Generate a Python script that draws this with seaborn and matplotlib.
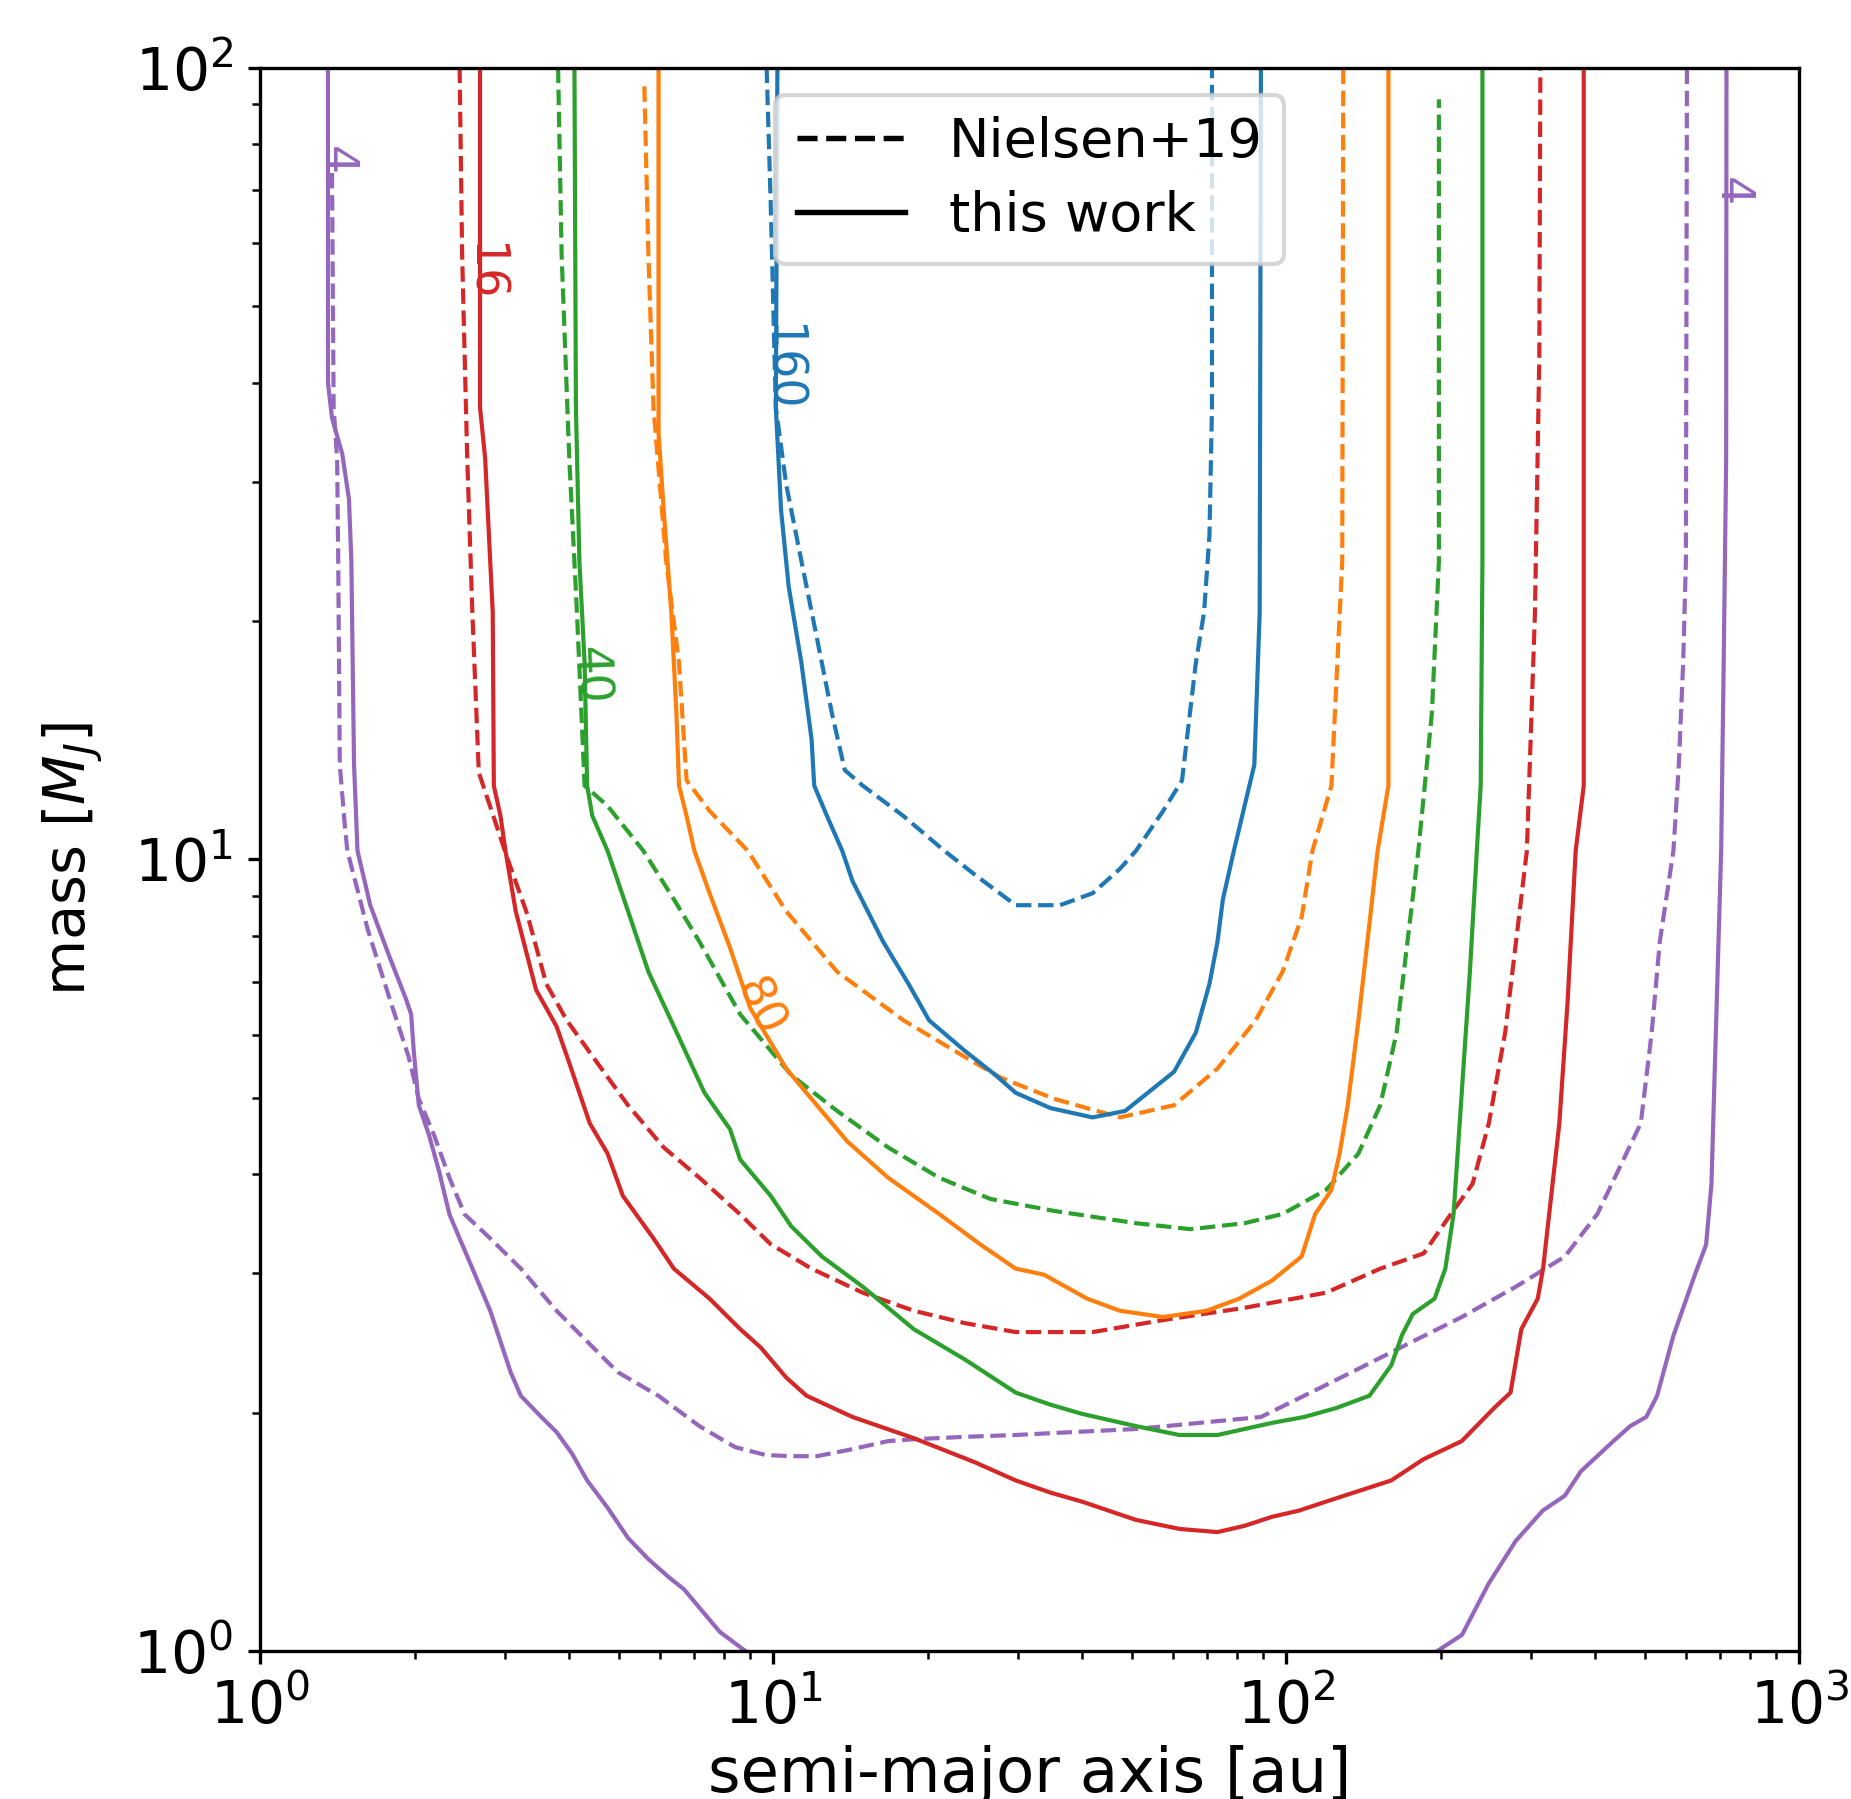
import matplotlib
matplotlib.use("Agg")
import matplotlib.pyplot as plt
from matplotlib.lines import Line2D
import seaborn as sns

# values: semi-major axis [au] (a) and mass [M_J] (m)

# 4 -- this work (two open pieces, both leave through the bottom)
purple_solid_left_a = [1.354, 1.354, 1.379, 1.444, 1.488, 1.504, 1.522, 1.546, 1.637, 1.775,
                       1.922, 1.967, 1.990, 2.036, 2.132, 2.231, 2.336, 2.445, 2.619, 2.805,
                       2.937, 3.074, 3.219, 3.527, 3.778, 4.046, 4.334, 4.750, 5.207, 5.706,
                       6.254, 6.698, 7.175, 7.862, 8.815]
purple_solid_left_m = [100, 40.0, 36.1, 32.5, 28.5, 23.8, 13.2, 10.25, 8.75, 7.60,
                       6.66, 6.37, 5.73, 4.89, 4.48, 4.03, 3.56, 3.32, 2.99, 2.69,
                       2.46, 2.25, 2.10, 1.975, 1.890, 1.777, 1.642, 1.517, 1.389, 1.306,
                       1.239, 1.196, 1.134, 1.057, 1.0]
purple_solid_right_a = [721, 720, 712, 704, 682, 674, 658, 626, 597, 568, 528, 503, 468, 434,
                        375, 349, 316, 280, 248, 220, 197]
purple_solid_right_m = [100, 32.1, 17.7, 10.25, 5.07, 3.89, 3.26, 2.99, 2.74, 2.50, 2.10, 1.975,
                        1.923, 1.841, 1.686, 1.571, 1.504, 1.377, 1.217, 1.048, 1.0]
# 4 -- Nielsen+19
purple_dashed_a = [1.379, 1.389, 1.411, 1.418, 1.428, 1.461, 1.477, 1.619, 1.795, 1.945,
                   2.036, 2.181, 2.336, 2.501, 2.805, 3.219, 3.778, 4.334, 4.972, 5.972,
                   7.175, 8.420, 9.66, 10.83, 12.15, 13.94, 16.74, 18.77, 23.60, 29.67,
                   34.67, 50.9, 89.2, 108.4, 134.9, 172.2, 219.7, 280.3, 349.2, 403.9,
                   490.8, 515.4, 534.5, 568.2, 582.1, 593.6, 600.9, 603.8]
purple_dashed_m = [73.6, 37.2, 32.05, 23.8, 13.15, 11.0, 10.25, 8.15, 6.60, 5.63,
                   4.98, 4.48, 3.96, 3.56, 3.32, 3.04, 2.69, 2.46, 2.25, 2.10,
                   1.923, 1.809, 1.768, 1.762, 1.762, 1.793, 1.841, 1.851, 1.864, 1.874,
                   1.884, 1.907, 1.975, 2.101, 2.254, 2.441, 2.641, 2.885, 3.150, 3.564,
                   4.64, 6.04, 7.87, 10.25, 13.16, 17.7, 23.8, 100]

# 16
red_solid_a = [2.680, 2.680, 2.742, 2.805, 2.837, 2.851, 2.937, 3.004, 3.145, 3.446,
               3.778, 4.000, 4.385, 4.750, 5.087, 5.838, 6.397, 7.509, 8.614, 9.441,
               10.59, 11.60, 14.26, 18.77, 24.71, 29.67, 34.67, 39.93, 50.9, 61.9,
               73.4, 82.9, 93.7, 105.8, 119.5, 160.1, 185.2, 219.7, 254.3, 273.5,
               287.1, 309.0, 316.5, 340.5, 353.3, 366.4, 379.9, 379.9]
red_solid_m = [100, 37.2, 32.1, 23.8, 20.5, 12.38, 11.35, 10.25, 8.60, 6.84,
               6.15, 5.53, 4.64, 4.25, 3.757, 3.32, 3.04, 2.786, 2.550, 2.418,
               2.215, 2.101, 1.975, 1.857, 1.731, 1.642, 1.585, 1.544, 1.464, 1.426,
               1.413, 1.439, 1.477, 1.504, 1.544, 1.642, 1.747, 1.841, 2.028, 2.120,
               2.550, 2.786, 3.04, 4.64, 6.60, 10.25, 12.39, 100]
red_dashed_a = [2.445, 2.473, 2.530, 2.589, 2.665, 2.808, 3.026, 3.311, 3.608, 3.955,
                4.537, 5.207, 6.112, 7.175, 8.614, 9.88, 11.87, 14.93, 18.77, 23.60,
                29.67, 41.9, 57.5, 82.9, 119.5, 152.4, 185.2, 209.3, 230.7, 248.1,
                267.0, 294.3, 305.2, 311.2, 312.7]
red_dashed_m = [100, 58.0, 32.1, 20.5, 12.87, 11.63, 10.05, 8.53, 6.96, 6.26,
                5.53, 4.89, 4.325, 3.96, 3.56, 3.264, 3.04, 2.835, 2.69, 2.595,
                2.528, 2.528, 2.618, 2.713, 2.835, 3.04, 3.178, 3.564, 3.892, 4.64,
                6.04, 10.25, 20.5, 43.1, 100]

# 40
green_solid_a = [4.094, 4.121, 4.186, 4.285, 4.334, 4.435, 4.750, 5.207, 5.706, 6.397,
                 7.339, 8.232, 8.614, 9.88, 10.83, 12.43, 14.93, 18.77, 23.60, 29.67,
                 34.67, 39.93, 50.9, 61.9, 73.4, 93.7, 108.4, 125.4, 145.2, 160.1,
                 168.0, 176.4, 194.5, 204.1, 211.8, 219.7, 227.9, 235.1, 239.2, 241.1, 241.1]
green_solid_m = [100, 37.2, 23.8, 17.7, 12.39, 11.35, 10.25, 8.60, 7.21, 6.15,
                 5.07, 4.56, 4.176, 3.757, 3.44, 3.150, 2.885, 2.550, 2.335, 2.120,
                 2.047, 1.993, 1.923, 1.874, 1.874, 1.941, 1.975, 2.028, 2.101, 2.295,
                 2.505, 2.665, 2.786, 3.04, 3.564, 5.07, 7.21, 10.25, 12.39, 23.8, 100]
green_dashed_a = [3.804, 3.865, 4.000, 4.140, 4.285, 4.750, 5.578, 6.397, 7.175, 8.614,
                  10.83, 13.31, 16.74, 21.05, 26.46, 35.34, 50.9, 65.0, 82.9, 98.3,
                  119.5, 138.2, 152.4, 164.0, 172.2, 180.8, 192.1, 198.3, 198.3]
green_dashed_m = [100, 58.0, 32.1, 20.5, 12.39, 11.68, 10.25, 8.90, 7.87, 6.37,
                  5.34, 4.81, 4.325, 3.96, 3.724, 3.595, 3.470, 3.410, 3.470, 3.564,
                  3.823, 4.25, 4.89, 6.04, 7.87, 10.25, 15.27, 23.8, 91.2]

# 80
orange_solid_a = [5.972, 5.972, 6.112, 6.324, 6.471, 6.546, 6.772, 7.014, 7.509, 8.232,
                  9.02, 10.59, 11.87, 13.94, 16.74, 21.05, 25.28, 29.67, 33.66, 40.90,
                  47.33, 57.5, 69.9, 80.9, 93.7, 107.1, 113.8, 122.4, 127.0, 131.7,
                  138.2, 145.2, 150.6, 158.1, 158.1]
orange_solid_m = [100, 34.5, 27.6, 20.5, 15.26, 12.39, 11.34, 10.25, 9.06, 7.73,
                  6.48, 5.44, 4.98, 4.40, 3.96, 3.564, 3.264, 3.04, 2.988, 2.786,
                  2.69, 2.641, 2.69, 2.786, 2.936, 3.150, 3.564, 3.823, 4.25, 4.89,
                  6.26, 8.30, 10.25, 12.39, 100]
orange_dashed_a = [5.603, 5.706, 5.838, 6.180, 6.546, 6.772, 7.509, 8.914, 10.59, 13.31,
                   17.93, 23.60, 27.70, 35.34, 47.33, 60.4, 73.4, 87.1, 98.3, 107.1,
                   112.4, 122.4, 128.5, 129.1]
orange_dashed_m = [94.7, 58.0, 37.2, 23.8, 17.7, 12.58, 11.51, 10.25, 8.60, 7.21,
                   6.26, 5.63, 5.30, 4.98, 4.72, 4.89, 5.44, 6.26, 7.21, 8.45,
                   10.25, 12.39, 23.8, 100]

# 160
blue_solid_a = [10.18, 10.11, 10.35, 10.71, 11.34, 11.87, 12.01, 12.72, 13.62, 14.26,
                16.36, 18.34, 20.11, 23.60, 27.08, 29.67, 34.67, 41.9, 48.5, 60.4,
                66.6, 70.8, 73.4, 75.2, 79.0, 86.6, 88.7, 89.2]
blue_solid_m = [100, 37.2, 27.6, 22.1, 17.7, 14.17, 12.39, 11.34, 10.25, 9.39,
                7.87, 6.96, 6.26, 5.73, 5.34, 5.07, 4.85, 4.72, 4.81, 5.39,
                6.04, 6.96, 7.87, 8.90, 10.25, 13.16, 20.5, 100]
blue_dashed_a = [9.70, 9.88, 10.11, 10.59, 11.34, 12.15, 13.01, 13.78, 14.93, 17.93,
                 21.54, 24.71, 29.67, 36.2, 41.9, 47.33, 50.9, 57.5, 62.6, 66.6,
                 69.1, 70.8, 71.6, 71.6]
blue_dashed_m = [100, 67.3, 37.2, 29.75, 23.8, 19.06, 15.26, 12.96, 12.39, 11.34,
                 10.25, 9.56, 8.75, 8.75, 9.06, 9.72, 10.25, 11.51, 12.58, 17.7,
                 20.5, 25.66, 37.2, 100]

# contour labels (text and where they sit)
label_text = ["4", "4", "16", "40", "80", "160"]
label_a = [1.40, 738, 2.71, 4.38, 9.39, 10.36]
label_m = [76.3, 69.7, 55.2, 17.06, 6.49, 41.8]
label_rot = [-90, -90, -90, -88, -65, -90]

pal = sns.color_palette("tab10")
c_blue, c_orange, c_green, c_red, c_purple = pal[0], pal[1], pal[2], pal[3], pal[4]
label_colors = [c_purple, c_purple, c_red, c_green, c_orange, c_blue]

fig = plt.figure(figsize=(1851 / 300, 1799 / 300), dpi=300)
ax = fig.add_axes([0.1407, 0.0823, 0.8314, 0.8801])

curves = [
    (purple_dashed_a, purple_dashed_m, c_purple, "--"),
    (red_dashed_a, red_dashed_m, c_red, "--"),
    (green_dashed_a, green_dashed_m, c_green, "--"),
    (orange_dashed_a, orange_dashed_m, c_orange, "--"),
    (blue_dashed_a, blue_dashed_m, c_blue, "--"),
    (purple_solid_left_a, purple_solid_left_m, c_purple, "-"),
    (purple_solid_right_a, purple_solid_right_m, c_purple, "-"),
    (red_solid_a, red_solid_m, c_red, "-"),
    (green_solid_a, green_solid_m, c_green, "-"),
    (orange_solid_a, orange_solid_m, c_orange, "-"),
    (blue_solid_a, blue_solid_m, c_blue, "-"),
]
for a, m, col, ls in curves:
    sns.lineplot(x=a, y=m, sort=False, estimator=None, color=col, linestyle=ls,
                 linewidth=1.0, legend=False, ax=ax)

for s, a, m, r, col in zip(label_text, label_a, label_m, label_rot, label_colors):
    ax.text(a, m, s, color=col, fontsize=11, rotation=r, ha="center", va="center",
            rotation_mode="anchor")

ax.set_xscale("log")
ax.set_yscale("log")
ax.set_xlim(1, 1000)
ax.set_ylim(1, 100)
ax.set_xlabel("semi-major axis [au]", fontsize=15, labelpad=2)
ax.set_ylabel(r"mass [$M_J$]", fontsize=13.8, labelpad=7)
ax.tick_params(which="major", labelsize=14, length=3)
ax.tick_params(which="minor", length=2)

handles = [Line2D([], [], color="k", ls="--", lw=1.3),
           Line2D([], [], color="k", ls="-", lw=1.3)]
ax.legend(handles, ["Nielsen+19", "this work"], loc="upper center", fontsize=13,
          labelspacing=0.4)

fig.savefig("out.png", dpi=300)
